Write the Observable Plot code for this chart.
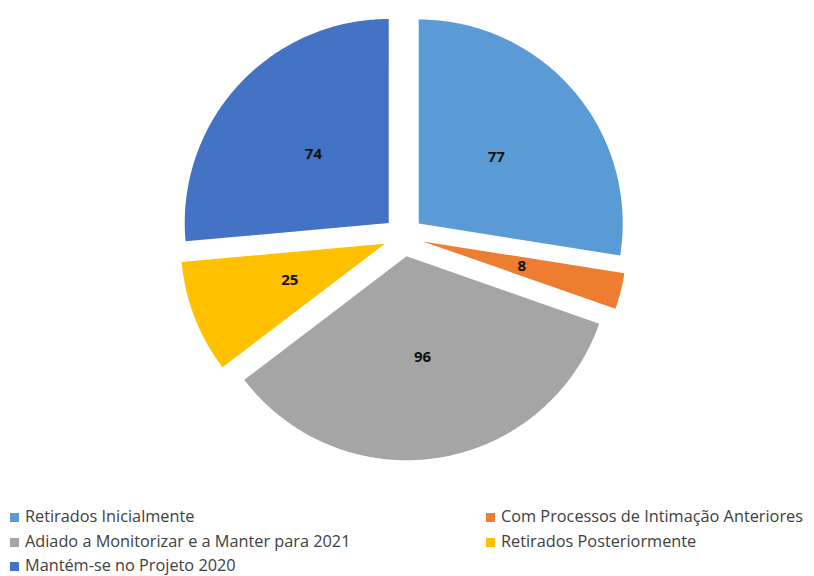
<!DOCTYPE html>
<html>
<head>
<meta charset="utf-8">
<script src="https://cdn.jsdelivr.net/npm/d3@7"></script>
<script src="https://cdn.jsdelivr.net/npm/@observablehq/plot@0.6"></script>
<style>
  html, body { margin: 0; padding: 0; background: #fff; overflow: hidden; }
  #chart { width: 814px; position: relative; }
  #legend { position: relative; width: 814px; height: 81px; font-family: "Open Sans", "Liberation Sans", sans-serif; font-size: 16.3px; color: #404040; }
  .item { position: absolute; height: 24px; line-height: 24px; white-space: nowrap; }
  .sw { display: inline-block; width: 9px; height: 9px; margin-right: 6px; vertical-align: 0px; }
</style>
</head>
<body>
<div id="chart"></div>
<script>
const categories = [
  "Retirados Inicialmente",
  "Com Processos de Intimação Anteriores",
  "Adiado a Monitorizar e a Manter para 2021",
  "Retirados Posteriormente",
  "Mantém-se no Projeto 2020"
];
const values = [77, 8, 96, 25, 74];
const colors = ["#5B9BD5", "#ED7D31", "#A5A5A5", "#FFC000", "#4472C4"];
const legendOrder = [0, 1, 2, 3, 4];

const W = 814, H = 495;
const cx = 403, cy = 236, R = 204;     // pie centre and radius in pixels
const explode = 20 / R;                // explosion offset in radius units
const labelR = 0.5;

const pie = d3.pie().sort(null).startAngle(0).endAngle(2 * Math.PI);
const arcs = pie(values);

const points = [];
const labels = [];
arcs.forEach((a, i) => {
  const mid = (a.startAngle + a.endAngle) / 2;
  const ox = explode * Math.sin(mid), oy = explode * Math.cos(mid);
  points.push({key: categories[i], x: ox, y: oy});
  const n = Math.max(4, Math.ceil((a.endAngle - a.startAngle) / 0.01));
  for (let k = 0; k <= n; k++) {
    const t = a.startAngle + (a.endAngle - a.startAngle) * k / n;
    points.push({key: categories[i], x: ox + Math.sin(t), y: oy + Math.cos(t)});
  }
  labels.push({key: categories[i], value: values[i], x: ox + labelR * Math.sin(mid), y: oy + labelR * Math.cos(mid)});
});

const plot = Plot.plot({
  width: W,
  height: H,
  margin: 0,
  x: {domain: [-cx / R, (W - cx) / R], range: [0, W], axis: null},
  y: {domain: [-(H - cy) / R, cy / R], range: [H, 0], axis: null},
  color: {domain: categories, range: colors},
  style: {background: "#fff"},
  marks: [
    Plot.line(points, {x: "x", y: "y", z: "key", fill: "key", stroke: null, curve: "linear-closed",
      style: "filter: drop-shadow(0 0 2px rgba(200,200,160,0.6))"}),
    Plot.text(labels, {x: "x", y: "y", text: "value", fill: "#111", fontSize: 15, fontWeight: "bold",
      fontFamily: "'Open Sans', 'Liberation Sans', sans-serif"})
  ]
});
document.getElementById("chart").appendChild(plot);

// legend
const legend = document.createElement("div");
legend.id = "legend";
const pos = [[10, 9], [486, 9], [10, 34], [486, 34], [10, 58]];
legendOrder.forEach((ci, k) => {
  const it = document.createElement("div");
  it.className = "item";
  it.style.left = pos[k][0] + "px";
  it.style.top = pos[k][1] + "px";
  const sw = document.createElement("span");
  sw.className = "sw";
  sw.style.background = colors[ci];
  it.appendChild(sw);
  it.appendChild(document.createTextNode(categories[ci]));
  legend.appendChild(it);
});
document.body.appendChild(legend);
</script>
</body>
</html>
